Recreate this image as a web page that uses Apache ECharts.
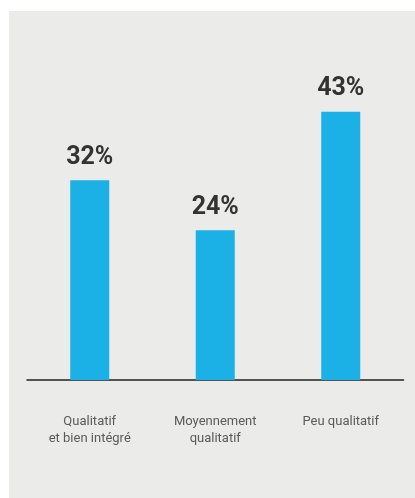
<!DOCTYPE html>
<html><head><meta charset="utf-8">
<script src="https://cdn.jsdelivr.net/npm/echarts@6/dist/echarts.min.js"></script>
<style>html,body{margin:0;padding:0;background:#fff;width:415px;height:498px;overflow:hidden}
#c{position:absolute;left:9px;top:11px;width:406px;height:487px}</style>
</head><body><div id="c"></div>
<script>
const categories = ['Qualitatif\net bien intégré', 'Moyennement\nqualitatif', 'Peu qualitatif'];
const values = [32, 24, 43];
const chart = echarts.init(document.getElementById('c'));
chart.setOption({
  backgroundColor: '#ebebe9',
  animation: false,
  grid: {left: 18, right: 11.5, top: 57, bottom: 118},
  xAxis: {
    type: 'category', data: categories,
    axisLine: {lineStyle: {color: '#222', width: 1.5}},
    axisTick: {show: false},
    axisLabel: {margin: 33, color: '#5a5a5a', fontFamily: 'Roboto', fontSize: 13, lineHeight: 17, interval: 0}
  },
  yAxis: {type: 'value', min: 0, max: 50, show: false, splitLine: {show: false}},
  series: [{
    type: 'bar', data: values, barWidth: 39,
    itemStyle: {color: '#1bb0e6'},
    label: {show: true, position: 'top', distance: 10, formatter: '{c}%',
      color: '#333', fontFamily: 'Roboto', fontWeight: 'bold', fontSize: 25}
  }]
});
</script></body></html>
